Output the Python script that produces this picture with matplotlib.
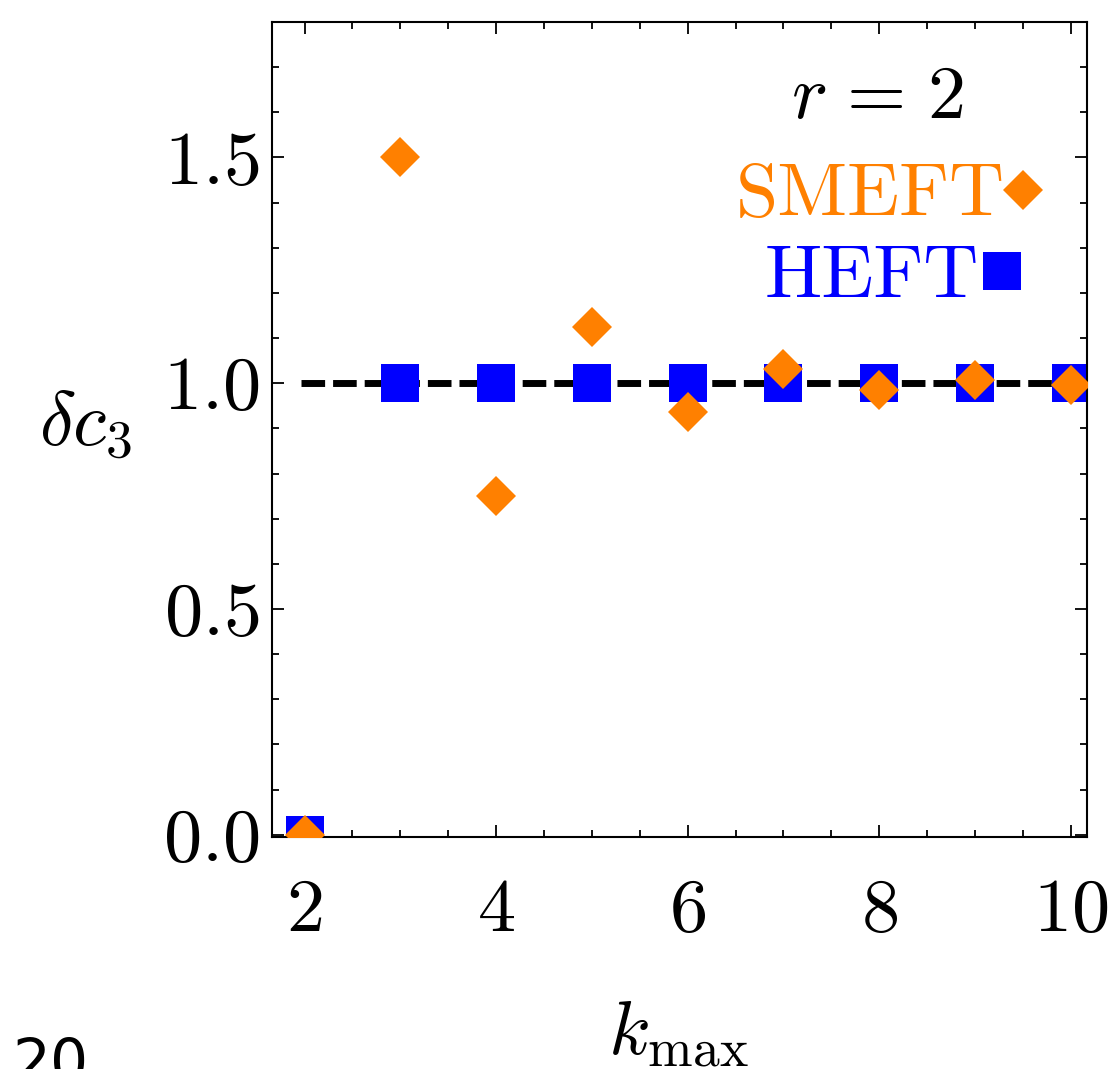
import matplotlib
matplotlib.use("Agg")
import matplotlib.pyplot as plt
from matplotlib.ticker import MultipleLocator

plt.rcParams['font.family'] = 'serif'
plt.rcParams['font.serif'] = ['cmr10']
plt.rcParams['mathtext.fontset'] = 'cm'
plt.rcParams['axes.formatter.use_mathtext'] = True
plt.rcParams['axes.unicode_minus'] = False

# data
kmax = [2, 3, 4, 5, 6, 7, 8, 9, 10]
smeft = [0.0, 1.5, 0.75, 1.125, 0.937, 1.031, 0.984, 1.008, 0.996]
heft = [0.0, 1.0, 1.0, 1.0, 1.0, 1.0, 1.0, 1.0, 1.0]
ref_level = 1.0

orange = '#ff8000'
blue = '#0000ff'
fs = 55

fig = plt.figure(figsize=(11.12, 10.69), dpi=100)
ax = fig.add_axes([0.2446, 0.217, 0.7329, 0.7624])

ax.hlines(ref_level, 1.96, 10.6, colors='k', lw=5, linestyles=(0, (3.4, 1.15)), zorder=1)
l_heft, = ax.plot(kmax, heft, 's', color=blue, ms=28, mew=0, ls='none', zorder=2)
l_smeft, = ax.plot(kmax, smeft, 'D', color=orange, ms=20, mew=0, ls='none', zorder=3)

ax.set_xlim(1.66, 10.17)
ax.set_ylim(-0.005, 1.8)
ax.xaxis.set_major_locator(MultipleLocator(2))
ax.xaxis.set_minor_locator(MultipleLocator(0.5))
ax.yaxis.set_major_locator(MultipleLocator(0.5))
ax.yaxis.set_minor_locator(MultipleLocator(0.1))

ax.tick_params(which='both', direction='in', top=True, right=True, width=1.3)
ax.tick_params(which='major', length=8.6)
ax.tick_params(which='minor', length=5)
ax.tick_params(axis='x', which='major', labelsize=fs, pad=30)
ax.tick_params(axis='y', which='major', labelsize=fs, pad=9)
for sp in ax.spines.values():
    sp.set_linewidth(1.5)

ax.set_xlabel(r'$k_{\rm max}$', fontsize=fs)
ax.xaxis.set_label_coords(0.498, -0.198)
ax.set_ylabel(r'$\delta c_3$', fontsize=fs, rotation=0, va='center', ha='center')
ax.yaxis.set_label_coords(-0.229, 0.505)

ax.text(0.743, 0.905, r'$r\hspace{0.12}=\hspace{0.12}2$', transform=ax.transAxes,
        fontsize=fs, ha='center', va='center')

leg1 = ax.legend([l_smeft], ['SMEFT'], loc='center right', bbox_to_anchor=(0.945, 0.785),
                 bbox_transform=ax.transAxes, frameon=False, markerfirst=False,
                 labelcolor='markerfacecolor', fontsize=fs, handlelength=0.5,
                 handletextpad=-0.01, borderpad=0, borderaxespad=0)
ax.add_artist(leg1)
ax.legend([l_heft], ['HEFT'], loc='center right', bbox_to_anchor=(0.919, 0.685),
          bbox_transform=ax.transAxes, frameon=False, markerfirst=False,
          labelcolor='markerfacecolor', fontsize=fs, handlelength=0.5,
          handletextpad=0.05, borderpad=0, borderaxespad=0)

# page number fragment at the bottom
fig.text(13 / 1112, -13 / 1069, '20', fontsize=43, family='DejaVu Sans',
         ha='left', va='baseline')

fig.savefig('out.png', dpi=100)
